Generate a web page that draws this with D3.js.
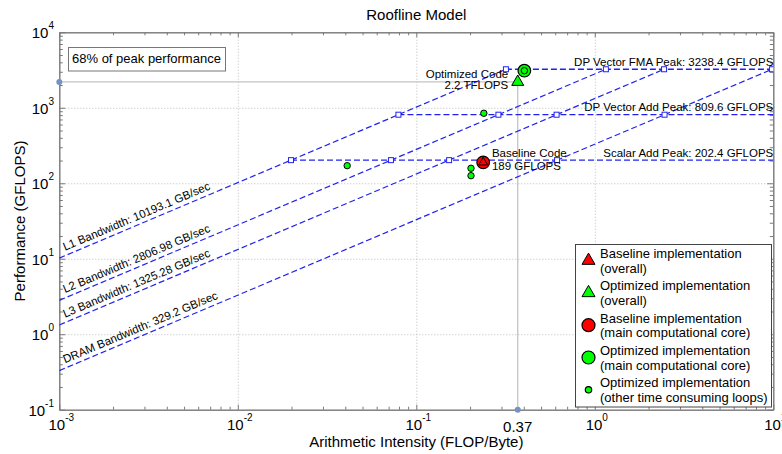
<!DOCTYPE html>
<html>
<head>
<meta charset="utf-8">
<script src="https://cdn.jsdelivr.net/npm/d3@7"></script>
<style>
  body { margin: 0; background: #fff; }
  svg { font-family: "Liberation Sans", Arial, sans-serif; }
</style>
</head>
<body>
<svg id="chart" width="782" height="454"></svg>
<script>
// roofline ceilings
var bandwidthNames = ['L1', 'L2', 'L3', 'DRAM'];
var bandwidths = [10193.1, 2806.98, 1325.28, 329.2];
var peakNames = ['DP Vector FMA Peak', 'DP Vector Add Peak', 'Scalar Add Peak'];
var peaks = [3238.4, 809.6, 202.4];

// measured kernels [arithmetic intensity, GFLOPS]
var baselineOverall = [0.237, 189];
var optimizedOverall = [0.37, 2200];
var baselineCore = [0.237, 189];
var optimizedCore = [0.403, 3100];
var otherLoops = [[0.041, 171], [0.2025, 158], [0.2025, 126], [0.239, 846], [0.403, 3100]];

var xMajors = [1e-3, 1e-2, 1e-1, 1, 10];
var yMajors = [1e-1, 1, 10, 100, 1000, 10000];
var legendLabels = [
  ['Baseline implementation', '(overall)'],
  ['Optimized implementation', '(overall)'],
  ['Baseline implementation', '(main computational core)'],
  ['Optimized implementation', '(main computational core)'],
  ['Optimized implementation', '(other time consuming loops)']
];

var svg = d3.select('#chart');
var pLeft = 59.3, pRight = 773.3, pTop = 32.3, pBottom = 409.7;

var x = d3.scaleLog().domain([1e-3, 10]).range([pLeft, pRight]);
var y = d3.scaleLog().domain([0.1, 1e4]).range([pBottom, pTop]);

function minors(majors) {
  var out = [];
  for (var i = 0; i < majors.length - 1; i++)
    for (var k = 2; k <= 9; k++) out.push(majors[i] * k);
  return out;
}
function exponent(v) { return Math.round(Math.log10(v)); }

svg.append('defs').append('clipPath').attr('id', 'plot')
  .append('rect').attr('x', pLeft).attr('y', pTop)
  .attr('width', pRight - pLeft).attr('height', pBottom - pTop);

// grid
svg.append('g')
  .attr('transform', 'translate(0,' + pBottom + ')')
  .call(d3.axisBottom(x).tickValues(xMajors.slice(1, -1)).tickSize(-(pBottom - pTop)).tickFormat(''))
  .call(g => {
    g.select('.domain').remove()
    g.selectAll('line').attr('stroke', '#bdbdbd').attr('stroke-dasharray', '1,2')
  });
svg.append('g')
  .attr('transform', 'translate(' + pLeft + ',0)')
  .call(d3.axisLeft(y).tickValues(yMajors.slice(1, -1)).tickSize(-(pRight - pLeft)).tickFormat(''))
  .call(g => {
    g.select('.domain').remove()
    g.selectAll('line').attr('stroke', '#bdbdbd').attr('stroke-dasharray', '1,2')
  });

// 68% reference lines
var ref = svg.append('g');
ref.append('line')
  .attr('x1', x(1e-3)).attr('x2', x(optimizedOverall[0]))
  .attr('y1', y(optimizedOverall[1])).attr('y2', y(optimizedOverall[1]))
  .attr('stroke', '#c4c4c4').attr('stroke-width', 1.3);
ref.append('line')
  .attr('x1', x(optimizedOverall[0])).attr('x2', x(optimizedOverall[0]))
  .attr('y1', y(0.1)).attr('y2', y(optimizedOverall[1]))
  .attr('stroke', '#c4c4c4').attr('stroke-width', 1.3);

// axes box with ticks on every side
function tickAxis(axis, transform, values, len) {
  svg.append('g')
    .attr('transform', transform)
    .call(axis.tickValues(values).tickSizeInner(-len).tickSizeOuter(0).tickFormat(''))
    .call(g => {
      g.select('.domain').attr('stroke', '#7a7a7a')
      g.selectAll('line').attr('stroke', '#7a7a7a')
    });
}
tickAxis(d3.axisBottom(x), 'translate(0,' + pBottom + ')', minors(xMajors), 3);
tickAxis(d3.axisTop(x), 'translate(0,' + pTop + ')', minors(xMajors), 3);
tickAxis(d3.axisLeft(y), 'translate(' + pLeft + ',0)', minors(yMajors), 3.5);
tickAxis(d3.axisRight(y), 'translate(' + pRight + ',0)', minors(yMajors), 3.5);
tickAxis(d3.axisBottom(x), 'translate(0,' + pBottom + ')', xMajors, 5);
tickAxis(d3.axisTop(x), 'translate(0,' + pTop + ')', xMajors, 5);
tickAxis(d3.axisLeft(y), 'translate(' + pLeft + ',0)', yMajors, 6);
tickAxis(d3.axisRight(y), 'translate(' + pRight + ',0)', yMajors, 6);

// tick labels 10^n
var xl = svg.append('g').attr('font-size', 15).attr('fill', '#000');
xMajors.forEach(function(v) {
  var t = xl.append('text').attr('x', x(v) + 2).attr('y', 430).attr('text-anchor', 'middle');
  t.append('tspan').text('10');
  t.append('tspan').attr('font-size', 10).attr('dy', -9).text(exponent(v));
});
xl.append('text').attr('x', x(optimizedOverall[0])).attr('y', 432)
  .attr('text-anchor', 'middle').text(optimizedOverall[0]);
var yl = svg.append('g').attr('font-size', 15).attr('fill', '#000');
yMajors.forEach(function(v) {
  var t = yl.append('text').attr('x', 54).attr('y', y(v) + 6).attr('text-anchor', 'end');
  t.append('tspan').text('10');
  t.append('tspan').attr('font-size', 10).attr('dy', -9).text(exponent(v));
});

// rooflines
var plot = svg.append('g').attr('clip-path', 'url(#plot)');
var line = d3.line().x(d => x(d[0])).y(d => y(d[1]));
var lineColor = '#2222ee';
bandwidths.forEach(function(b) {
  plot.append('path')
    .attr('d', line([[1e-3, b * 1e-3], [peaks[0] / b, peaks[0]]]))
    .attr('fill', 'none').attr('stroke', lineColor).attr('stroke-width', 1.2)
    .attr('stroke-dasharray', '6,3');
});
peaks.forEach(function(p) {
  plot.append('path')
    .attr('d', line([[p / bandwidths[0], p], [10, p]]))
    .attr('fill', 'none').attr('stroke', lineColor).attr('stroke-width', 1.3)
    .attr('stroke-dasharray', '6,3');
});
var corners = [];
bandwidths.forEach(b => peaks.forEach(p => corners.push([p / b, p])));
plot.selectAll('rect.corner')
  .data(corners)
  .enter().append('rect')
  .attr('class', 'corner')
  .attr('x', d => x(d[0]) - 2.5).attr('y', d => y(d[1]) - 2.5)
  .attr('width', 5).attr('height', 5)
  .attr('fill', '#fff').attr('stroke', lineColor).attr('stroke-width', 1);

// ceiling labels
var angle = Math.atan2(y(1) - y(10), x(1) - x(0.1)) * 180 / Math.PI;
bandwidths.forEach(function(b, i) {
  var px = pLeft + 7.4;
  var ai = x.invert(px);
  svg.append('text')
    .attr('transform', 'translate(' + px + ',' + y(b * ai) + ') rotate(' + (-angle) + ')')
    .attr('dy', -4.5)
    .attr('font-size', 11.5)
    .text(bandwidthNames[i] + ' Bandwidth: ' + b + ' GB/sec');
});
peaks.forEach(function(p, i) {
  svg.append('text')
    .attr('x', pRight).attr('y', y(p) - 3.5)
    .attr('text-anchor', 'end').attr('font-size', 11.5)
    .text(peakNames[i] + ': ' + p + ' GFLOPS');
});

// reference dots on the axes
svg.append('circle').attr('cx', x(1e-3)).attr('cy', y(optimizedOverall[1])).attr('r', 3).attr('fill', '#7592c4');
svg.append('circle').attr('cx', x(optimizedOverall[0])).attr('cy', y(0.1)).attr('r', 3).attr('fill', '#7592c4');

// markers
var tri = function(w) { return d3.symbol().type(d3.symbolTriangle).size(Math.sqrt(3) / 4 * w * w)(); };
var red = '#ff0000', green = '#00ff00';
svg.append('circle').attr('cx', x(baselineCore[0])).attr('cy', y(baselineCore[1])).attr('r', 6.3)
  .attr('fill', red).attr('stroke', '#000').attr('stroke-width', 1.2);
svg.append('path').attr('d', tri(9)).attr('transform', 'translate(' + x(baselineOverall[0]) + ',' + y(baselineOverall[1]) + ')')
  .attr('fill', red).attr('stroke', '#000').attr('stroke-width', 1);
svg.append('circle').attr('cx', x(optimizedCore[0])).attr('cy', y(optimizedCore[1])).attr('r', 6.3)
  .attr('fill', green).attr('stroke', '#000').attr('stroke-width', 1.2);
svg.append('path').attr('d', tri(12)).attr('transform', 'translate(' + x(optimizedOverall[0]) + ',' + y(optimizedOverall[1]) + ')')
  .attr('fill', green).attr('stroke', '#000').attr('stroke-width', 1);
svg.selectAll('circle.loop')
  .data(otherLoops)
  .enter().append('circle')
  .attr('class', 'loop')
  .attr('cx', d => x(d[0])).attr('cy', d => y(d[1])).attr('r', 3.2)
  .attr('fill', green).attr('stroke', '#000').attr('stroke-width', 1);

// annotations
var ann = svg.append('g').attr('font-size', 11.5);
ann.append('text').attr('x', x(optimizedOverall[0]) - 9.5).attr('y', 77.5).attr('text-anchor', 'end').text('Optimized Code');
ann.append('text').attr('x', x(optimizedOverall[0]) - 9.5).attr('y', 88.5).attr('text-anchor', 'end').text('2.2 TFLOPS');
ann.append('text').attr('x', x(baselineCore[0]) + 8.7).attr('y', 157.3).text('Baseline Code');
ann.append('text').attr('x', x(baselineCore[0]) + 8.7).attr('y', 169.5).text(baselineCore[1] + ' GFLOPS');

// 68% box
svg.append('rect').attr('x', 68.5).attr('y', 47.5).attr('width', 157).attr('height', 23.5)
  .attr('fill', '#fff').attr('stroke', '#777').attr('stroke-width', 1);
svg.append('text').attr('x', 72).attr('y', 62.7).attr('font-size', 13).text('68% of peak performance');

// titles
svg.append('text').attr('x', (pLeft + pRight) / 2).attr('y', 19.5).attr('text-anchor', 'middle')
  .attr('font-size', 15).text('Roofline Model');
svg.append('text').attr('x', (pLeft + pRight) / 2).attr('y', 447).attr('text-anchor', 'middle')
  .attr('font-size', 15).text('Arithmetic Intensity (FLOP/Byte)');
svg.append('text').attr('transform', 'translate(25,' + (pTop + pBottom) / 2 + ') rotate(-90)')
  .attr('text-anchor', 'middle').attr('font-size', 15).text('Performance (GFLOPS)');

// legend
var lg = svg.append('g');
lg.append('rect').attr('x', 575.5).attr('y', 244.5).attr('width', 196).attr('height', 162.5)
  .attr('fill', '#fff').attr('stroke', '#444').attr('stroke-width', 1);
legendLabels.forEach(function(lab, i) {
  var cy = 253.3 + i * 32.3;
  lg.append('text').attr('x', 600).attr('y', cy + 4.6).attr('font-size', 13).text(lab[0]);
  lg.append('text').attr('x', 600).attr('y', cy + 19.3).attr('font-size', 13).text(lab[1]);
  var my = cy + 7.3, mx = 588.5;
  if (i < 2) {
    lg.append('path').attr('d', tri(13)).attr('transform', 'translate(' + mx + ',' + my + ')')
      .attr('fill', i == 0 ? red : green).attr('stroke', '#000').attr('stroke-width', 1);
  } else {
    lg.append('circle').attr('cx', mx).attr('cy', my).attr('r', i == 4 ? 3.2 : 6.5)
      .attr('fill', i == 2 ? red : green).attr('stroke', '#000').attr('stroke-width', 1.2);
  }
});
</script>
</body>
</html>
